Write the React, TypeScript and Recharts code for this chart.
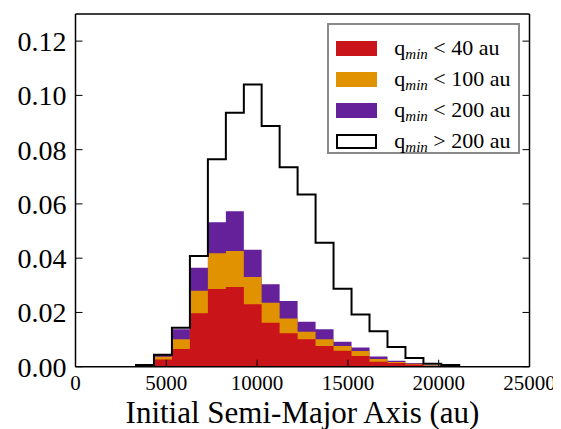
import React from 'react';
import { ComposedChart, Area, Line, XAxis, YAxis, Legend } from 'recharts';

// bin edges in au (18 bins)
const binEdges = [
  3330, 4320, 5310, 6300, 7290, 8280, 9270, 10250, 11240, 12230,
  13220, 14210, 15200, 16190, 17180, 18170, 19160, 20140, 21130,
];

const totalAll = [
  0.0006, 0.0044, 0.0144, 0.0408, 0.0765, 0.0936, 0.104, 0.0887, 0.0735,
  0.0635, 0.0457, 0.0287, 0.0192, 0.0131, 0.0073, 0.0032, 0.0011, 0.0006,
];
const under200 = [
  0.0004, 0.0043, 0.0138, 0.0365, 0.0532, 0.0573, 0.0431, 0.0304, 0.0242,
  0.0166, 0.0138, 0.0092, 0.0071, 0.0038, 0.0022, 0.0014, 0.0005, 0.0003,
];
const under100 = [
  0.0003, 0.0037, 0.0101, 0.028, 0.0418, 0.0426, 0.0331, 0.0236, 0.0178,
  0.0129, 0.0101, 0.0076, 0.0058, 0.0028, 0.0017, 0.0011, 0.0004, 0.0003,
];
const under40 = [
  0.0003, 0.0027, 0.0065, 0.0197, 0.0286, 0.0294, 0.023, 0.0162, 0.0123,
  0.0101, 0.0076, 0.0059, 0.0039, 0.0018, 0.0014, 0.0008, 0.0003, 0.0002,
];

const xTicks = [0, 5000, 10000, 15000, 20000, 25000];
const yTicks = [0, 0.02, 0.04, 0.06, 0.08, 0.1, 0.12];

const legendItems = [
  { sign: '<', value: '40', color: '#c9141a', outline: false },
  { sign: '<', value: '100', color: '#e09200', outline: false },
  { sign: '<', value: '200', color: '#65219a', outline: false },
  { sign: '>', value: '200', color: '#ffffff', outline: true },
];

const zero = { x: binEdges[0], all: 0, q200: 0, q100: 0, q40: 0 };
const data = [
  zero,
  ...totalAll.map((v, i) => ({
    x: binEdges[i],
    all: v,
    q200: under200[i],
    q100: under100[i],
    q40: under40[i],
  })),
  { x: binEdges[binEdges.length - 1], all: 0, q200: 0, q100: 0, q40: 0 },
];

const font = '"Liberation Serif", serif';
const noTick = () => <g />;

const LegendBox = () => (
  <div
    style={{
      boxSizing: 'border-box',
      width: 193,
      height: 131,
      border: '2px solid #8a8a8a',
      background: '#fff',
      padding: '8px 0 0 7px',
      fontFamily: font,
      fontSize: 22,
      color: '#000',
    }}
  >
    {legendItems.map((it, i) => (
      <div key={i} style={{ display: 'flex', alignItems: 'center', height: 31 }}>
        <span
          style={{
            boxSizing: 'border-box',
            display: 'inline-block',
            width: 41,
            height: 15,
            background: it.color,
            border: it.outline ? '2px solid #000' : 'none',
            marginRight: 17,
          }}
        />
        <span style={{ whiteSpace: 'nowrap' }}>
          q<sub style={{ fontStyle: 'italic', fontSize: 15, verticalAlign: '-4px' }}>min</sub>
          {' '}{it.sign} {it.value} au
        </span>
      </div>
    ))}
  </div>
);

export default function App() {
  return (
    <ComposedChart
      width={553}
      height={421}
      data={data}
      margin={{ top: 5, right: 30.5, left: 0, bottom: 0 }}
      style={{ fontFamily: font }}
    >
      <XAxis
        dataKey="x"
        type="number"
        domain={[0, 25000]}
        ticks={xTicks}
        allowDataOverflow
        height={62.3}
        tickSize={-7}
        tickMargin={15}
        axisLine={{ stroke: '#000', strokeWidth: 1.5 }}
        tickLine={{ stroke: '#000' }}
        tick={{ fill: '#000', fontSize: 21, fontFamily: font }}
        label={{
          value: 'Initial Semi-Major Axis (au)',
          position: 'insideBottom',
          offset: 6,
          fill: '#000',
          fontSize: 31,
          fontFamily: font,
        }}
      />
      <XAxis
        xAxisId="top"
        orientation="top"
        type="number"
        domain={[0, 25000]}
        ticks={xTicks}
        allowDataOverflow
        height={1}
        tickSize={-7}
        axisLine={{ stroke: '#000', strokeWidth: 1.5 }}
        tickLine={{ stroke: '#000' }}
        tick={noTick}
      />
      <YAxis
        type="number"
        domain={[0, 0.13]}
        ticks={yTicks}
        allowDataOverflow
        width={67.5}
        tickSize={-7}
        tickMargin={16}
        tickFormatter={(v: number) => v.toFixed(2)}
        axisLine={{ stroke: '#000', strokeWidth: 1.5 }}
        tickLine={{ stroke: '#000' }}
        tick={{ fill: '#000', fontSize: 28, fontFamily: font }}
      />
      <YAxis
        yAxisId="right"
        orientation="right"
        type="number"
        domain={[0, 0.13]}
        ticks={yTicks}
        allowDataOverflow
        width={1}
        tickSize={-7}
        axisLine={{ stroke: '#000', strokeWidth: 1.5 }}
        tickLine={{ stroke: '#000' }}
        tick={noTick}
      />
      <Area type="stepAfter" dataKey="q200" stroke="none" fill="#65219a" fillOpacity={1} isAnimationActive={false} />
      <Area type="stepAfter" dataKey="q100" stroke="none" fill="#e09200" fillOpacity={1} isAnimationActive={false} />
      <Area type="stepAfter" dataKey="q40" stroke="none" fill="#c9141a" fillOpacity={1} isAnimationActive={false} />
      <Line type="stepAfter" dataKey="all" stroke="#000" strokeWidth={2} dot={false} isAnimationActive={false} />
      <Legend
        layout="vertical"
        align="center"
        verticalAlign="middle"
        wrapperStyle={{ left: 319.3, top: 15.3, width: 193 }}
        content={() => <LegendBox />}
      />
    </ComposedChart>
  );
}
